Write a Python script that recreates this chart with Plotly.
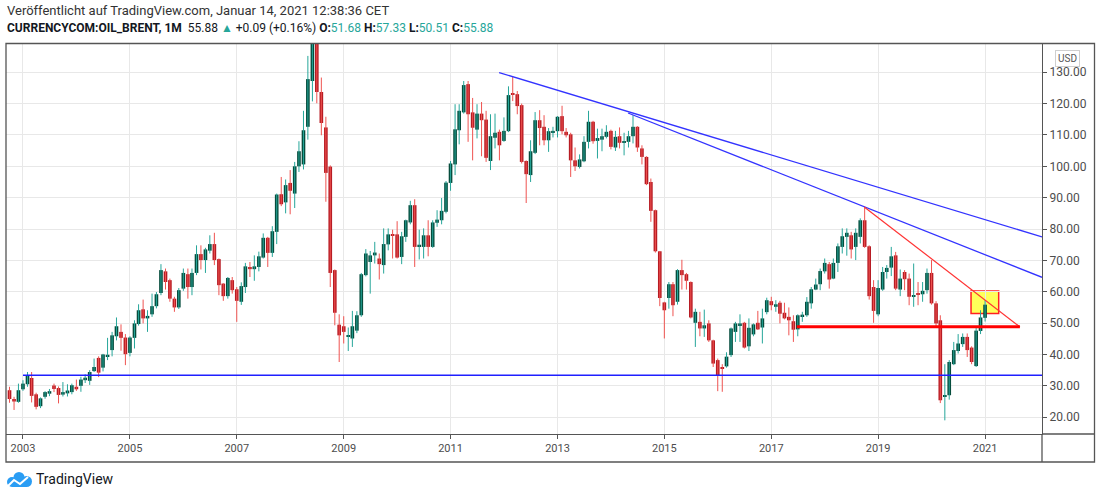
"""
Brent monthly candles (TradingView snapshot) with the hand-drawn trend lines.
"""

import pandas as pd
import plotly.graph_objects as go

FIRST_MONTH = "2002-10-01"

OPENS = [
    28.6, 25.8, 24.9,
    28.9, 30.5, 32.5, 27.3, 23.5, 26.5, 27.5, 30.1, 29.3, 27.2, 27.6, 28.0,
    29.7, 30.0, 31.8, 31.6, 34.7, 38.9, 35.8, 39.3, 41.4, 45.8, 47.2, 45.4,
    40.5, 45.3, 49.7, 54.4, 51.5, 52.8, 55.4, 59.6, 66.5, 63.7, 57.8, 55.0,
    61.0, 65.6, 61.5, 66.0, 72.0, 70.1, 73.1, 75.2, 70.4, 62.6, 58.6, 63.7,
    60.8, 56.8, 61.5, 67.9, 67.2, 67.9, 70.9, 77.2, 72.4, 79.1, 91.1, 88.5,
    94.7, 91.3, 100.0, 100.6, 112.6, 127.2, 140.0, 123.7, 112.4, 99.9, 66.9, 49.5,
    49.0, 45.6, 45.1, 47.6, 52.5, 65.3, 69.5, 71.6, 70.6, 68.5, 75.1, 78.3,
    78.3, 71.1, 77.5, 82.1, 87.6, 74.5, 74.3, 78.0, 74.3, 82.0, 82.8, 85.5,
    94.7, 100.6, 111.5, 117.2, 126.2, 117.2, 111.7, 116.8, 114.9, 101.7, 109.1, 111.0,
    108.1, 111.2, 123.0, 123.0, 119.5, 101.7, 97.2, 104.3, 114.7, 112.6, 108.3, 110.8,
    111.2, 116.0, 111.0, 110.2, 101.9, 99.8, 101.6, 107.8, 114.2, 108.1, 108.5, 109.4,
    111.3, 106.0, 109.6, 107.5, 107.8, 109.6, 112.6, 105.7, 103.0, 95.0, 86.0, 72.9,
    56.6, 58.0, 62.4, 56.8, 66.9, 65.6, 63.1, 50.1, 50.4, 48.3, 49.9, 44.5,
    38.2, 35.9, 36.2, 39.8, 47.2, 49.3, 50.1, 42.6, 46.4, 50.1, 48.6, 53.5,
    57.0, 55.2, 56.5, 53.3, 52.0, 50.6, 48.0, 52.2, 52.5, 56.3, 60.7, 62.4,
    66.5, 68.8, 64.2, 69.2, 74.3, 77.5, 78.0, 74.3, 77.5, 82.8, 74.5, 61.5,
    52.8, 60.7, 66.3, 67.7, 71.6, 60.7, 66.3, 64.2, 58.4, 59.6, 59.2, 60.5,
    66.0, 56.3, 50.9, 26.5, 27.0, 36.9, 41.1, 43.3, 45.6, 42.2, 36.3, 47.5,
    51.68,
]
HIGHS = [
    29.7, 26.5, 30.7,
    31.8, 34.4, 34.4, 27.8, 26.3, 28.3, 29.0, 30.7, 29.8, 31.2, 30.5, 30.7,
    32.0, 32.9, 33.7, 35.0, 38.7, 39.4, 40.2, 45.3, 47.2, 51.8, 49.6, 46.5,
    45.8, 50.9, 56.0, 57.5, 54.1, 59.4, 59.9, 68.8, 67.4, 64.2, 58.4, 61.2,
    67.4, 67.4, 67.4, 74.8, 74.8, 74.0, 78.0, 78.8, 70.6, 62.7, 64.7, 64.7,
    61.5, 63.0, 69.2, 69.5, 71.6, 72.8, 78.6, 77.5, 80.9, 91.3, 96.6, 95.8,
    98.8, 101.4, 108.0, 117.7, 135.2, 142.5, 147.5, 128.3, 115.8, 100.3, 67.1, 52.8,
    52.2, 48.6, 53.9, 53.8, 66.0, 73.6, 73.0, 75.9, 72.2, 80.2, 80.2, 79.8,
    82.5, 79.1, 83.0, 89.0, 89.5, 79.8, 80.2, 82.8, 82.8, 86.0, 89.9, 95.3,
    101.7, 119.8, 119.8, 127.2, 127.2, 121.8, 119.8, 120.5, 117.7, 116.6, 116.8, 111.7,
    115.6, 125.5, 128.5, 124.0, 120.0, 101.9, 108.3, 117.3, 117.9, 116.3, 112.2, 112.6,
    116.0, 119.3, 112.2, 110.7, 106.0, 103.8, 109.6, 117.7, 114.5, 112.0, 112.0, 113.1,
    111.7, 111.3, 112.4, 110.7, 111.3, 116.3, 112.8, 106.7, 103.2, 96.1, 86.2, 73.0,
    56.8, 63.1, 63.1, 67.2, 70.2, 66.0, 63.3, 54.6, 53.6, 54.3, 50.9, 44.7,
    38.7, 36.9, 40.7, 48.6, 50.4, 52.8, 50.4, 51.5, 49.9, 53.9, 54.6, 58.1,
    58.4, 57.3, 57.1, 56.5, 55.0, 52.5, 52.8, 53.6, 58.3, 61.5, 64.2, 67.4,
    70.6, 69.5, 70.6, 75.4, 80.2, 80.2, 79.1, 80.2, 83.4, 87.1, 74.8, 63.7,
    63.7, 67.9, 68.5, 74.3, 72.7, 67.1, 66.9, 65.8, 69.0, 63.1, 63.1, 67.4,
    70.1, 57.0, 52.5, 36.9, 38.2, 44.0, 46.5, 46.7, 46.7, 42.6, 48.6, 54.1,
    57.33,
]
LOWS = [
    24.6, 22.3, 24.6,
    28.4, 29.7, 24.7, 22.5, 22.9, 25.9, 26.7, 28.0, 24.4, 26.6, 26.6, 27.3,
    28.4, 28.1, 30.9, 30.3, 34.4, 32.8, 34.6, 38.2, 39.4, 44.5, 41.2, 36.6,
    39.4, 41.9, 49.2, 49.9, 47.2, 52.0, 54.7, 58.9, 60.7, 56.8, 53.6, 54.5,
    60.3, 57.8, 58.9, 65.3, 67.1, 66.0, 72.2, 68.5, 58.9, 57.1, 57.8, 59.4,
    50.4, 55.8, 59.6, 64.7, 63.5, 66.5, 70.6, 67.9, 71.1, 75.2, 87.3, 85.0,
    84.7, 86.7, 98.2, 99.0, 108.5, 120.7, 120.1, 109.9, 88.7, 61.5, 49.3, 37.6,
    43.5, 41.1, 42.4, 46.8, 52.0, 64.9, 59.4, 69.0, 63.9, 65.8, 73.2, 70.6,
    70.6, 68.8, 75.9, 81.5, 67.9, 70.3, 70.6, 71.3, 74.0, 80.7, 81.5, 85.0,
    92.2, 97.2, 107.0, 116.8, 107.8, 101.9, 108.9, 103.2, 101.4, 98.8, 105.7, 101.9,
    107.8, 110.9, 120.8, 116.6, 100.9, 88.3, 95.0, 103.9, 106.7, 106.7, 104.6, 109.2,
    109.2, 110.2, 109.2, 96.6, 98.5, 99.3, 101.3, 105.7, 107.2, 102.5, 104.8, 108.9,
    105.4, 104.9, 105.7, 103.5, 106.0, 107.3, 104.6, 100.6, 94.0, 82.3, 72.5, 55.4,
    45.1, 54.6, 52.2, 55.9, 60.7, 60.7, 51.5, 42.4, 45.8, 45.6, 44.0, 36.0,
    28.3, 28.1, 35.8, 39.2, 44.0, 44.0, 41.9, 41.1, 45.8, 47.8, 43.5, 52.8,
    54.1, 53.6, 49.9, 51.2, 46.1, 44.0, 45.8, 50.4, 52.0, 54.6, 60.5, 60.5,
    65.8, 61.0, 64.0, 66.3, 72.2, 71.5, 70.6, 70.1, 75.4, 74.0, 57.5, 50.1,
    52.2, 60.3, 64.2, 65.0, 60.5, 58.6, 60.5, 55.7, 55.2, 55.7, 56.8, 59.4,
    55.9, 48.6, 24.5, 19.0, 25.6, 36.6, 40.3, 42.4, 39.2, 36.9, 36.0, 46.5,
    50.51,
]
CLOSES = [
    25.8, 25.0, 28.6,
    30.7, 33.4, 26.8, 23.3, 26.0, 28.0, 28.3, 29.0, 27.1, 28.0, 28.5, 30.2,
    28.9, 32.0, 32.6, 34.4, 36.0, 34.2, 40.0, 39.9, 46.1, 49.0, 45.3, 40.1,
    45.4, 49.9, 54.1, 51.5, 52.3, 55.4, 59.2, 66.9, 63.1, 57.8, 55.0, 60.5,
    66.0, 61.5, 66.0, 72.0, 70.1, 73.5, 75.2, 70.1, 62.1, 58.6, 64.4, 60.5,
    57.1, 61.8, 68.1, 67.2, 68.1, 71.3, 77.2, 72.4, 79.3, 91.0, 87.9, 94.0,
    92.2, 100.0, 104.8, 111.5, 127.8, 140.0, 123.7, 113.8, 97.9, 66.0, 53.3, 46.1,
    47.2, 46.1, 49.0, 52.5, 65.6, 72.2, 71.6, 72.5, 68.8, 75.2, 78.3, 77.8,
    70.9, 77.7, 82.8, 87.6, 74.3, 75.0, 78.0, 74.3, 82.1, 83.0, 85.8, 94.8,
    100.9, 111.8, 117.7, 125.9, 116.6, 112.3, 116.8, 114.7, 102.7, 109.6, 110.7, 106.7,
    111.3, 122.7, 122.8, 119.2, 101.4, 97.5, 104.8, 114.7, 112.2, 108.3, 111.2, 111.3,
    115.8, 111.2, 109.9, 101.9, 100.0, 102.2, 107.8, 114.2, 108.0, 109.0, 109.6, 111.0,
    106.2, 109.4, 107.5, 108.0, 109.6, 112.6, 106.0, 103.0, 94.3, 85.8, 72.9, 58.0,
    54.1, 62.4, 55.7, 66.9, 65.3, 63.5, 51.8, 53.6, 48.3, 49.3, 44.5, 37.1,
    33.4, 35.6, 39.3, 48.3, 49.9, 49.9, 42.2, 48.5, 49.6, 48.0, 51.5, 57.3,
    55.7, 56.0, 53.0, 51.5, 50.9, 47.9, 52.5, 52.7, 56.8, 60.8, 62.3, 66.6,
    69.2, 63.9, 69.2, 74.5, 77.7, 78.8, 73.5, 78.8, 82.8, 74.3, 58.6, 53.9,
    61.2, 66.3, 67.6, 71.3, 61.0, 64.2, 64.0, 58.4, 58.9, 59.1, 60.3, 66.0,
    56.3, 49.9, 25.4, 26.9, 37.6, 41.4, 43.5, 45.6, 41.4, 37.6, 47.6, 51.8,
    55.88,
]

# hand drawn objects on the snapshot (anchor dates / prices)
SUPPORT_DATES = ["2003-01-01", "2022-03-01"]
SUPPORT_PRICES = [33.4, 33.4]
UPPER_DATES = ["2011-11-29", "2022-01-25"]
UPPER_PRICES = [129.9, 77.5]
MIDDLE_DATES = ["2014-04-28", "2022-01-25"]
MIDDLE_PRICES = [117.0, 64.6]
RED_DIAG_DATES = ["2018-09-28", "2021-08-27"]
RED_DIAG_PRICES = [87.05, 48.8]
NECKLINE_DATES = ["2017-06-24", "2021-08-27"]
NECKLINE_PRICES = [48.8, 48.8]
BOX_DATES = ["2020-09-27", "2021-04-04"]
BOX_PRICES = [53.1, 60.2]

YEAR_TICKS = list(range(2003, 2022, 2))
PRICE_TICKS = list(range(20, 131, 10))

UP_BODY, UP_WICK = "#064d3d", "#26a69a"
DOWN_BODY, DOWN_WICK = "#b71c24", "#ef5350"
FRAME = "#555555"
TEXT = "#4d4d4d"

# plot area in page pixels, used for the paper-positioned decorations
L, R, T, B = 6, 1042, 44, 434


def px(x):
    return (x - L) / (R - L)


def py(y):
    return (B - y) / (B - T)


def main():
    months = pd.date_range(FIRST_MONTH, periods=len(CLOSES), freq="MS")

    fig = go.Figure()

    for up in (True, False):
        wx, wy = [], []
        bx, base, height = [], [], []
        for d, o, h, l, c in zip(months, OPENS, HIGHS, LOWS, CLOSES):
            if (c >= o) != up:
                continue
            wx += [d, d, None]
            wy += [l, h, None]
            bx.append(d)
            base.append(min(o, c))
            height.append(max(abs(c - o), 0.3))
        fig.add_trace(
            go.Scatter(
                x=wx, y=wy, mode="lines", hoverinfo="skip",
                line={"color": UP_WICK if up else DOWN_WICK, "width": 1},
            )
        )
        fig.add_trace(
            go.Bar(
                x=bx, y=height, base=base,
                width=25 * 86400000,
                marker={"color": UP_BODY if up else DOWN_BODY, "line": {"width": 0}},
            )
        )

    lines = [
        (SUPPORT_DATES, SUPPORT_PRICES, "#1f1fff", 1.5),
        (UPPER_DATES, UPPER_PRICES, "#3333ff", 1.3),
        (MIDDLE_DATES, MIDDLE_PRICES, "#3333ff", 1.3),
        (RED_DIAG_DATES, RED_DIAG_PRICES, "#ff3333", 1.2),
        (NECKLINE_DATES, NECKLINE_PRICES, "#ff0000", 3),
    ]
    for xs, ys, color, width in lines:
        fig.add_trace(
            go.Scatter(x=xs, y=ys, mode="lines", hoverinfo="skip",
                       line={"color": color, "width": width})
        )

    fig.add_shape(
        type="rect", xref="x", yref="y", layer="below",
        x0=BOX_DATES[0], x1=BOX_DATES[1], y0=BOX_PRICES[0], y1=BOX_PRICES[1],
        fillcolor="rgba(255,255,0,0.65)", line={"color": "#ff2020", "width": 1.5},
    )

    # frame round price and time axes, plus the corner cell
    frame = {"color": FRAME, "width": 1.3}
    fig.add_shape(type="rect", xref="paper", yref="paper",
                  x0=px(6), x1=px(1094.5), y0=py(462), y1=py(43.5), line=frame)
    fig.add_shape(type="line", xref="paper", yref="paper",
                  x0=1, x1=1, y0=0, y1=py(462), line=frame)
    fig.add_shape(type="line", xref="paper", yref="paper",
                  x0=1, x1=px(1094.5), y0=0, y1=0, line=frame)

    # TradingView logo
    logo = "#2a9df4"
    for cx, cy, r in [(12, 482, 5), (19, 477.5, 5.5), (26.5, 481.5, 5.5)]:
        fig.add_shape(type="circle", xref="paper", yref="paper",
                      x0=px(cx - r), x1=px(cx + r), y0=py(cy + r), y1=py(cy - r),
                      fillcolor=logo, line={"width": 0})
    fig.add_shape(type="rect", xref="paper", yref="paper",
                  x0=px(12), x1=px(27), y0=py(487), y1=py(481),
                  fillcolor=logo, line={"width": 0})
    zig = [(8, 486), (14, 480), (20, 484), (28, 477)]
    path = "M " + " L ".join(f"{px(x)},{py(y)}" for x, y in zig)
    fig.add_shape(type="path", xref="paper", yref="paper", path=path,
                  line={"color": "white", "width": 2})

    teal = "#26a69a"
    fig.add_annotation(
        xref="paper", yref="paper", x=px(5), y=py(10), xanchor="left", yanchor="middle",
        showarrow=False, font={"size": 13, "color": "#333333"},
        text="Veröffentlicht auf TradingView.com, Januar 14, 2021 12:38:36 CET",
    )
    ohlc = "".join(
        f" <b>{k}:</b><span style='color:{teal}'>{v:.2f}</span>"
        for k, v in zip("OHLC", (OPENS[-1], HIGHS[-1], LOWS[-1], CLOSES[-1]))
    )
    fig.add_annotation(
        xref="paper", yref="paper", x=px(5), y=py(28), xanchor="left", yanchor="middle",
        showarrow=False, font={"size": 12, "color": "#131722"},
        text=(
            f"<b>CURRENCYCOM:OIL_BRENT, 1M</b>  {CLOSES[-1]:.2f} "
            f"<span style='color:{teal}'>▲</span> +0.09 (+0.16%)" + ohlc
        ),
    )
    fig.add_annotation(
        xref="paper", yref="paper", x=px(34), y=py(479), xanchor="left", yanchor="middle",
        showarrow=False, font={"size": 14, "color": "#131722"}, text="TradingView",
    )
    fig.add_annotation(
        xref="paper", yref="paper", x=px(1067), y=py(59), xanchor="center", yanchor="middle",
        showarrow=False, font={"size": 10, "color": "#555555"}, text="USD",
        bordercolor="#cfcfcf", borderwidth=1, borderpad=2, bgcolor="white",
    )

    fig.update_layout(
        width=1100,
        height=498,
        margin={"l": L, "r": 1100 - R, "t": T, "b": 498 - B},
        plot_bgcolor="white",
        paper_bgcolor="white",
        showlegend=False,
        barmode="overlay",
        font={"family": "Roboto, Arial, sans-serif", "color": TEXT},
        xaxis={
            "type": "date",
            "range": ["2002-09-07", "2022-01-25"],
            "tickvals": [f"{y}-01-01" for y in YEAR_TICKS],
            "ticktext": [str(y) for y in YEAR_TICKS],
            "showgrid": True, "gridcolor": "#e8e8e8", "gridwidth": 1,
            "showline": True, "linecolor": FRAME, "linewidth": 1.3,
            "ticks": "outside", "ticklen": 4, "tickcolor": FRAME,
            "tickfont": {"size": 11, "color": TEXT},
            "zeroline": False,
        },
        yaxis={
            "side": "right",
            "range": [14.64, 139.0],
            "tickvals": PRICE_TICKS,
            "ticktext": [f"{v:.2f}" for v in PRICE_TICKS],
            "showgrid": True, "gridcolor": "#e8e8e8", "gridwidth": 1,
            "showline": True, "linecolor": FRAME, "linewidth": 1.3,
            "ticks": "outside", "ticklen": 4, "tickcolor": FRAME,
            "tickfont": {"size": 12, "color": TEXT},
            "zeroline": False,
        },
    )

    # page body has a default margin; drop it so the figure sits at 0,0
    fig.write_html(
        "out.html",
        config={"displayModeBar": False},
        post_script="document.body.style.margin='0';",
    )


if __name__ == "__main__":
    main()
